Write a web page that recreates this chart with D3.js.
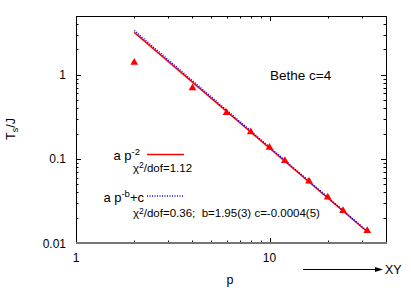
<!DOCTYPE html>
<html lang="en">
<head>
    <meta charset="UTF-8">
    <title>Bethe c=4</title>
    <script src="https://cdn.jsdelivr.net/npm/d3@7/dist/d3.min.js"></script>
    <style>
      body { margin: 0; background: #fff; }
      text { font-family: "Liberation Sans", Arial, sans-serif; fill: #000; }
    </style>
</head>
<body>
<script>
  // data
  var pVals = [2, 4, 6, 8, 10, 12, 16, 20, 24, 32];
  var tsVals = [1.40, 0.697, 0.354, 0.209, 0.137, 0.0952, 0.0542, 0.0349, 0.0242, 0.0140];
  var fitP = [2, 32];
  var fitPow = [3.19, 0.0136];      // a p^-2
  var fitPowC = [3.36, 0.0138];     // a p^-b + c
  var xTickLabels = [1, 10];
  var yTickLabels = [0.01, 0.1, 1];

  drawChart();

  function drawChart() {
    var width = 411, height = 288;
    var left = 76, right = 386, top = 16, bottom = 243;

    var svg = d3.select("body").append("svg")
      .attr("width", width)
      .attr("height", height);

    var x = d3.scaleLog().domain([1, 40]).range([left, right]);
    var y = d3.scaleLog().domain([0.01, 5]).range([bottom, top]);

    // ticks: majors and minors on all four sides
    var xMinor = [];
    [1, 10].forEach(function (d) {
      for (var k = 2; k <= 9; k++) if (d * k <= 40) xMinor.push(d * k);
    });
    var yMinor = [];
    [0.01, 0.1, 1].forEach(function (d) {
      for (var k = 2; k <= 9; k++) if (d * k < 5) yMinor.push(d * k);
    });

    var g = svg.append("g").attr("stroke", "#000").attr("stroke-width", 1);

    function xTick(v, len) {
      var px = Math.round(x(v)) + 0.5;
      g.append("line").attr("x1", px).attr("x2", px).attr("y1", bottom).attr("y2", bottom - len);
      g.append("line").attr("x1", px).attr("x2", px).attr("y1", top).attr("y2", top + len);
    }
    function yTick(v, len) {
      var py = Math.round(y(v)) + 0.5;
      g.append("line").attr("x1", left).attr("x2", left + len).attr("y1", py).attr("y2", py);
      g.append("line").attr("x1", right).attr("x2", right - len).attr("y1", py).attr("y2", py);
    }
    xTickLabels.forEach(function (d) { xTick(d, 5); });
    xMinor.forEach(function (d) { xTick(d, 2.5); });
    yTickLabels.forEach(function (d) { yTick(d, 5); });
    yMinor.forEach(function (d) { yTick(d, 2.5); });

    // border
    svg.append("path")
      .attr("d", "M" + (left + 0.5) + "," + (bottom) + "V" + (top + 0.5) + "H" + (right + 0.5) + "V" + bottom)
      .attr("fill", "none")
      .attr("stroke", "#000")
      .attr("stroke-width", 1);
    svg.append("line")
      .attr("x1", left).attr("x2", right + 1)
      .attr("y1", bottom).attr("y2", bottom)
      .attr("stroke", "#777").attr("stroke-width", 2);

    // tick labels
    svg.selectAll(".xl").data(xTickLabels).enter().append("text")
      .attr("x", function (d) { return x(d); })
      .attr("y", 262)
      .attr("text-anchor", "middle")
      .style("font-size", "12px")
      .text(function (d) { return d; });

    svg.selectAll(".yl").data(yTickLabels).enter().append("text")
      .attr("x", 66)
      .attr("y", function (d) { return y(d) + 4.5; })
      .attr("text-anchor", "end")
      .style("font-size", "12px")
      .text(function (d) { return d; });

    // axis titles
    svg.append("text")
      .attr("x", 230).attr("y", 284)
      .attr("text-anchor", "middle")
      .style("font-size", "12.5px")
      .text("p");

    var yt = svg.append("text")
      .attr("transform", "translate(15,129) rotate(-90)")
      .attr("text-anchor", "middle")
      .style("font-size", "12.5px");
    yt.append("tspan").text("T");
    yt.append("tspan").attr("dy", 3).style("font-size", "9px").text("s");
    yt.append("tspan").attr("dy", -3).text("/J");

    // XY arrow
    svg.append("line")
      .attr("x1", 303).attr("x2", 378)
      .attr("y1", 269.5).attr("y2", 269.5)
      .attr("stroke", "#000").attr("stroke-width", 1);
    svg.append("path")
      .attr("d", "M383,269.5L375,267L375,272Z")
      .attr("fill", "#000");
    svg.append("text")
      .attr("x", 385).attr("y", 274)
      .style("font-size", "12.5px")
      .text("XY");

    // fits
    var line = d3.line()
      .x(function (d) { return x(d[0]); })
      .y(function (d) { return y(d[1]); });

    svg.append("path")
      .attr("d", line(d3.zip(fitP, fitPow)))
      .attr("fill", "none")
      .attr("stroke", "#ff0000")
      .attr("stroke-width", 1.5);

    svg.append("path")
      .attr("d", line(d3.zip(fitP, fitPowC)))
      .attr("fill", "none")
      .attr("stroke", "#0000ff")
      .attr("stroke-width", 1.5)
      .attr("stroke-dasharray", "1,1.5");

    // data points
    var tri = d3.symbol().type(d3.symbolTriangle).size(26);
    svg.selectAll(".pt").data(d3.zip(pVals, tsVals)).enter().append("path")
      .attr("d", tri)
      .attr("transform", function (d) { return "translate(" + x(d[0]) + "," + y(d[1]) + ")"; })
      .attr("fill", "#ff0000");

    // label
    svg.append("text")
      .attr("x", 270).attr("y", 80)
      .style("font-size", "13.5px")
      .text("Bethe c=4");

    // legend
    var l1 = svg.append("text")
      .attr("x", 140).attr("y", 160)
      .attr("text-anchor", "end")
      .style("font-size", "13px");
    l1.append("tspan").text("a p");
    l1.append("tspan").attr("dy", -5).style("font-size", "9.5px").text("-2");

    svg.append("line")
      .attr("x1", 147).attr("x2", 184)
      .attr("y1", 154.5).attr("y2", 154.5)
      .attr("stroke", "#ff0000").attr("stroke-width", 1.5);

    var c1 = svg.append("text")
      .attr("x", 133).attr("y", 172)
      .style("font-size", "11.5px");
    c1.append("tspan").text("\u03c7");
    c1.append("tspan").attr("dy", -4).style("font-size", "8.5px").text("2");
    c1.append("tspan").attr("dy", 4).text("/dof=1.12");

    var l2 = svg.append("text")
      .attr("x", 144).attr("y", 201.5)
      .attr("text-anchor", "end")
      .style("font-size", "13px");
    l2.append("tspan").text("a p");
    l2.append("tspan").attr("dy", -5).style("font-size", "9.5px").text("-b");
    l2.append("tspan").attr("dy", 5).text("+c");

    svg.append("line")
      .attr("x1", 147).attr("x2", 183)
      .attr("y1", 196).attr("y2", 196)
      .attr("stroke", "#0000ff").attr("stroke-width", 1.5)
      .attr("stroke-dasharray", "1,1.5");

    var c2 = svg.append("text")
      .attr("x", 133).attr("y", 217)
      .style("font-size", "11.5px")
      .attr("xml:space", "preserve");
    c2.append("tspan").text("\u03c7");
    c2.append("tspan").attr("dy", -3.5).style("font-size", "8.5px").text("2");
    c2.append("tspan").attr("dy", 3.5).text("/dof=0.36;  b=1.95(3) c=-0.0004(5)");
  }
</script>
</body>
</html>
